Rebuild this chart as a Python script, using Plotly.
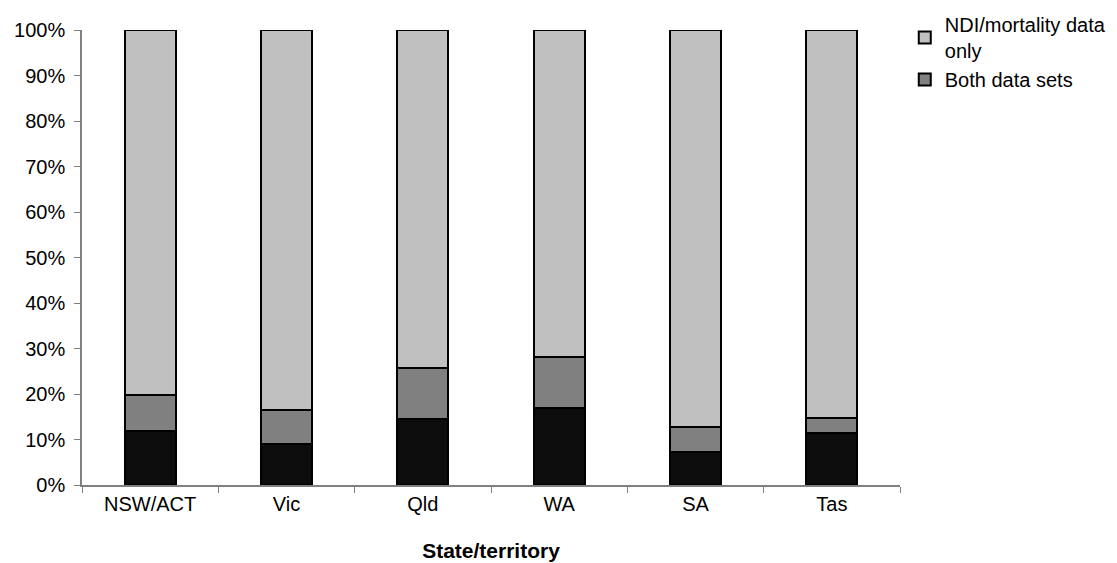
import plotly.graph_objects as go

states = ["NSW/ACT", "Vic", "Qld", "WA", "SA", "Tas"]
other_only = [11.9, 9.0, 14.4, 17.0, 7.3, 11.4]
both_sets = [7.9, 7.5, 11.3, 11.1, 5.5, 3.4]
ndi_only = [round(100 - a - b, 1) for a, b in zip(other_only, both_sets)]

font = dict(family="Liberation Sans, Arial, sans-serif", size=20, color="#000000")
outline = dict(color="#000000", width=2)

fig = go.Figure()
fig.add_trace(go.Bar(x=states, y=other_only, name="Other data only",
                     marker=dict(color="#0D0D0D", line=outline), showlegend=False))
fig.add_trace(go.Bar(x=states, y=both_sets, name="Both data sets",
                     marker=dict(color="#808080", line=outline)))
fig.add_trace(go.Bar(x=states, y=ndi_only, name="NDI/mortality data<br>only",
                     marker=dict(color="#C0C0C0", line=outline)))

fig.update_layout(
    barmode="stack",
    bargap=0.626,
    width=1117, height=563,
    margin=dict(l=82, r=217, t=30, b=78),
    paper_bgcolor="white", plot_bgcolor="white",
    font=font,
    legend=dict(xref="container", yref="container",
                x=0.810, y=0.991, xanchor="left", yanchor="top",
                traceorder="reversed", font=dict(size=20),
                itemwidth=30, tracegroupgap=0, bgcolor="rgba(0,0,0,0)"),
    xaxis=dict(
        title=dict(text="<b>State/territory</b>", font=dict(size=21), standoff=30),
        showline=True, linecolor="#808080", linewidth=1.5,
        ticks="outside", ticklen=6, tickcolor="#808080", tickson="boundaries",
        showgrid=False, automargin=False,
    ),
    yaxis=dict(
        range=[0, 100], tickvals=list(range(0, 101, 10)),
        ticktext=[f"{v}%" for v in range(0, 101, 10)],
        showline=True, linecolor="#808080", linewidth=1.5,
        ticks="outside", ticklen=6, tickcolor="#808080", ticklabelstandoff=5,
        showgrid=False, zeroline=False, automargin=False,
    ),
)

fig.write_html("out.html")
